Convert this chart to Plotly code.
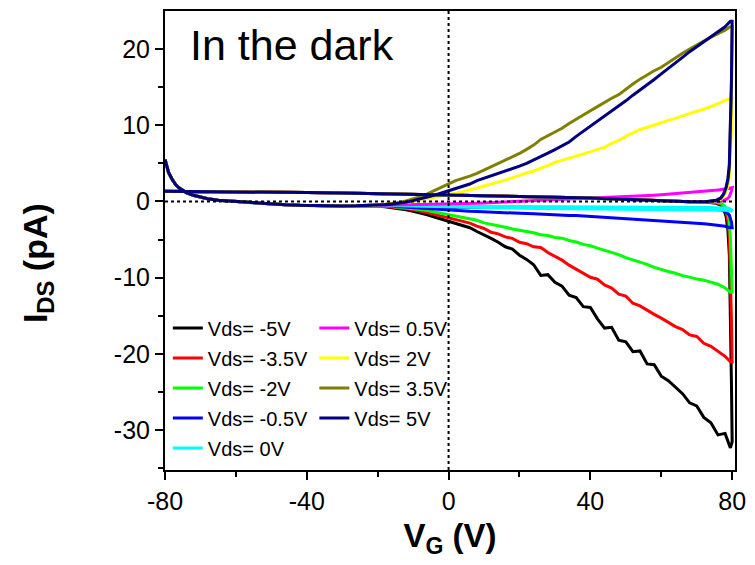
import plotly.graph_objects as go

# ---- data -------------------------------------------------------------
# shared start of forward sweep (all curves overlap here)
V_LEFT = [-80, -79.5, -79, -78, -77, -76, -75, -74, -72, -70, -68, -65, -62, -58,
          -54, -50, -46, -42, -38, -34, -30, -26, -22]
I_LEFT = [5.5, 4.5, 3.8, 2.9, 2.2, 1.75, 1.4, 1.15, 0.8, 0.55, 0.35, 0.15, 0.05, -0.1,
          -0.25, -0.35, -0.45, -0.52, -0.57, -0.6, -0.6, -0.58, -0.55]

# forward sweep, -20 .. 80 V
V_F = [-20, -18, -16, -14, -12, -10, -8, -6, -4, -2,
       0, 2, 4, 6, 8, 10, 12, 14, 16, 18,
       20, 22, 24, 26, 28, 30, 32, 34, 36, 38,
       40, 42, 44, 46, 48, 50, 52, 54, 56, 58,
       60, 62, 64, 66, 68, 70, 72, 74, 76, 78, 79.5]

F_M5 = [-0.60, -0.70, -0.80, -0.95, -1.10, -1.30, -1.50, -1.75, -2.05, -2.35,
        -2.60, -2.85, -3.20, -3.45, -3.95, -4.35, -4.85, -5.35, -5.95, -6.25,
        -7.05, -7.60, -8.30, -9.70, -9.60, -10.60, -11.10, -12.30, -12.60, -13.80,
        -13.90, -15.40, -16.60, -16.50, -18.20, -18.40, -19.70, -19.60, -21.30, -21.40,
        -22.90, -23.50, -24.40, -25.20, -26.40, -26.80, -28.30, -29.00, -30.60, -30.40, -32.30]
F_M35 = [-0.58, -0.65, -0.72, -0.82, -0.95, -1.10, -1.25, -1.45, -1.70, -1.95,
         -2.15, -2.35, -2.70, -2.85, -3.25, -3.55, -4.05, -4.25, -4.65, -4.85,
         -5.35, -5.55, -5.95, -6.05, -6.70, -7.15, -7.70, -8.35, -8.85, -9.40,
         -9.95, -10.20, -10.95, -11.35, -12.15, -12.40, -13.35, -13.70, -14.30, -14.80,
         -15.30, -15.90, -16.40, -16.80, -17.50, -17.70, -18.60, -19.00, -19.70, -20.30, -21.00]
F_M2 = [-0.56, -0.60, -0.66, -0.74, -0.83, -0.93, -1.05, -1.20, -1.38, -1.55,
        -1.70, -1.92, -2.08, -2.32, -2.48, -2.82, -2.98, -3.22, -3.38, -3.62,
        -3.78, -3.98, -4.12, -4.38, -4.47, -4.73, -4.82, -5.13, -5.32, -5.63,
        -5.82, -6.13, -6.38, -6.72, -6.97, -7.38, -7.66, -8.03, -8.26, -8.64,
        -8.86, -9.18, -9.42, -9.73, -9.92, -10.18, -10.32, -10.64, -10.86, -11.34, -11.90]
F_M05 = [-0.54, -0.58, -0.64, -0.70, -0.76, -0.83, -0.90, -0.98, -1.06, -1.14,
         -1.20, -1.22, -1.27, -1.30, -1.33, -1.38, -1.40, -1.45, -1.47, -1.52,
         -1.56, -1.60, -1.62, -1.68, -1.70, -1.75, -1.78, -1.84, -1.86, -1.92,
         -1.96, -2.01, -2.05, -2.12, -2.15, -2.22, -2.26, -2.33, -2.37, -2.45,
         -2.50, -2.58, -2.62, -2.70, -2.76, -2.85, -2.92, -3.02, -3.10, -3.25, -3.45]
F_0 = [-0.52, -0.54, -0.56, -0.58, -0.60, -0.62, -0.65, -0.68, -0.71, -0.74,
       -0.77, -0.79, -0.80, -0.82, -0.83, -0.85, -0.86, -0.87, -0.88, -0.89,
       -0.90, -0.91, -0.92, -0.93, -0.93, -0.94, -0.95, -0.95, -0.96, -0.97,
       -0.97, -0.98, -0.98, -0.99, -1.00, -1.00, -1.01, -1.01, -1.02, -1.02,
       -1.03, -1.04, -1.04, -1.05, -1.05, -1.06, -1.07, -1.08, -1.10, -1.15, -1.25]
F_P05 = [-0.50, -0.49, -0.48, -0.47, -0.46, -0.45, -0.43, -0.41, -0.39, -0.37,
         -0.35, -0.32, -0.29, -0.26, -0.23, -0.20, -0.16, -0.12, -0.08, -0.04,
         0.00, 0.04, 0.08, 0.12, 0.15, 0.19, 0.23, 0.27, 0.30, 0.33,
         0.36, 0.40, 0.44, 0.48, 0.53, 0.58, 0.63, 0.69, 0.75, 0.81,
         0.87, 0.94, 1.00, 1.07, 1.14, 1.22, 1.30, 1.40, 1.50, 1.62, 1.80]
F_P2 = [-0.48, -0.42, -0.35, -0.25, -0.12, 0.00, 0.15, 0.30, 0.50, 0.70,
        0.88, 1.10, 1.28, 1.52, 1.72, 2.02, 2.22, 2.52, 2.78, 3.12,
        3.38, 3.72, 3.98, 4.32, 4.68, 5.12, 5.38, 5.72, 5.98, 6.22,
        6.48, 6.82, 7.08, 7.62, 7.98, 8.52, 8.96, 9.42, 9.68, 10.02,
        10.28, 10.62, 10.88, 11.22, 11.48, 11.82, 12.08, 12.42, 12.78, 13.22, 13.50]
F_P35 = [-0.45, -0.38, -0.28, -0.15, 0.05, 0.30, 0.60, 1.00, 1.40, 1.90,
         2.30, 2.72, 2.98, 3.32, 3.68, 4.12, 4.48, 5.02, 5.38, 5.82,
         6.28, 6.82, 7.38, 8.12, 8.58, 9.12, 9.58, 10.22, 10.78, 11.42,
         11.88, 12.42, 12.98, 13.52, 13.98, 14.72, 15.38, 16.02, 16.58, 17.12,
         17.58, 18.22, 18.78, 19.42, 19.98, 20.52, 20.98, 21.52, 21.98, 22.42, 22.90]
F_P5 = [-0.50, -0.44, -0.36, -0.25, -0.10, 0.10, 0.30, 0.55, 0.80, 1.10,
        1.40, 1.70, 2.02, 2.28, 2.72, 3.02, 3.42, 3.68, 4.02, 4.28,
        4.62, 4.98, 5.42, 5.78, 6.32, 6.78, 7.32, 7.78, 8.52, 9.18,
        9.82, 10.48, 11.12, 11.78, 12.52, 13.18, 13.92, 14.58, 15.32, 15.98,
        16.72, 17.48, 18.22, 18.88, 19.62, 20.28, 20.92, 21.58, 22.32, 22.88, 23.60]

# backward sweep, 80 .. -80 V
V_B = [80, 79.8, 79.5, 79.2, 78.8, 78.3, 77.6, 76.8, 75.5, 73, 68,
       60, 50, 40, 30, 20, 10, 0, -10, -20, -30, -40, -50, -60, -70, -80]
BASE_B = [0.10, 0.25, 0.45, 0.55, 0.65, 0.75, 0.85, 0.95, 1.05, 1.10, 1.15, 1.20, 1.25, 1.30, 1.33]

B_M5 = [-31.5, -24.0, -13.0, -7.0, -3.8, -2.0, -1.0, -0.5, -0.25, -0.10, -0.05] + BASE_B
B_M35 = [-21.0, -15.5, -8.5, -4.6, -2.5, -1.4, -0.75, -0.38, -0.18, -0.08, -0.05] + BASE_B
B_M2 = [-11.9, -8.5, -4.8, -2.7, -1.6, -0.9, -0.5, -0.25, -0.12, -0.06, -0.05] + BASE_B
B_M05 = [-3.45, -2.7, -2.1, -1.8, -1.6, -1.4, -1.25, -1.12, -1.05, -1.0, -0.98,
         -0.95, -0.92, -0.9, -0.87, -0.83, -0.78, -0.72, -0.6, -0.52, -0.6, -0.55, -0.35, -0.03, None, None]
B_0 = [-1.25, -1.1, -0.98, -0.92, -0.88, -0.86, -0.84, -0.83, -0.82, -0.81, -0.8,
       -0.79, -0.78, -0.77, -0.76, -0.75, -0.73, -0.7, -0.6, -0.52, -0.6, -0.55, -0.35, -0.03, None, None]
B_P05 = [1.8, 1.4, 0.9, 0.6, 0.4, 0.25, 0.12, 0.05, 0.0, -0.03, -0.05] + BASE_B
B_P2 = [13.5, 9.5, 5.2, 3.2, 2.0, 1.3, 0.7, 0.3, 0.1, 0.0, -0.05] + BASE_B
B_P35 = [22.9, 15.0, 7.5, 4.4, 2.7, 1.7, 0.9, 0.4, 0.12, 0.0, -0.05] + BASE_B
B_P5 = [23.6, 16.0, 8.0, 4.8, 3.0, 1.9, 1.0, 0.45, 0.15, 0.0, -0.05] + BASE_B

LABELS = ["Vds= -5V", "Vds= -3.5V", "Vds= -2V", "Vds= -0.5V", "Vds= 0V",
          "Vds= 0.5V", "Vds= 2V", "Vds= 3.5V", "Vds= 5V"]
COLORS = ["#000000", "#ff0000", "#00ff00", "#0000ff", "#00ffff",
          "#ff00ff", "#ffff00", "#808000", "#000080"]
FWD = [F_M5, F_M35, F_M2, F_M05, F_0, F_P05, F_P2, F_P35, F_P5]
BWD = [B_M5, B_M35, B_M2, B_M05, B_0, B_P05, B_P2, B_P35, B_P5]

X_TICKS = [-80, -40, 0, 40, 80]
X_TICKTEXT = ["-80", "-40", "0", "40", "80"]
Y_TICKS = [-30, -20, -10, 0, 10, 20]
Y_TICKTEXT = ["-30", "-20", "-10", "0", "10", "20"]

# ---- figure -----------------------------------------------------------
FONT = "Liberation Sans, Arial, sans-serif"
fig = go.Figure()
for i, (lab, col, f, b) in enumerate(zip(LABELS, COLORS, FWD, BWD)):
    fig.add_trace(go.Scatter(
        x=V_LEFT + V_F + V_B, y=I_LEFT + f + b,
        mode="lines", name=lab, line=dict(color=col, width=3),
        legend="legend" if i < 5 else "legend2",
        legendgroup=lab, connectgaps=False,
    ))

leg_common = dict(font=dict(family=FONT, size=20, color="black"),
                  bgcolor="rgba(0,0,0,0)", borderwidth=0,
                  tracegroupgap=1, traceorder="grouped",
                  xanchor="left", yanchor="top", itemwidth=30)
fig.update_layout(
    width=755, height=565,
    margin=dict(l=165, r=19, t=9, b=95),
    paper_bgcolor="white", plot_bgcolor="white",
    font=dict(family=FONT, color="black"),
    showlegend=True,
    legend=dict(x=0.005, y=0.352, **leg_common),
    legend2=dict(x=0.262, y=0.352, **leg_common),
    xaxis=dict(range=[-80, 80.8], tickvals=X_TICKS, ticktext=X_TICKTEXT,
               ticks="outside", ticklen=8, tickwidth=2, tickcolor="black",
               minor=dict(tickvals=[-60, -20, 20, 60], ticks="outside", ticklen=5,
                          tickwidth=2, tickcolor="black"),
               showline=True, linewidth=2, linecolor="black", mirror=True,
               showgrid=False, zeroline=False,
               tickfont=dict(family=FONT, size=25),
               title=dict(text="<b>V<sub>G</sub> (V)</b>", font=dict(family=FONT, size=33),
                          standoff=10)),
    yaxis=dict(range=[-35.2, 24.95], tickvals=Y_TICKS, ticktext=Y_TICKTEXT,
               ticks="outside", ticklen=8, tickwidth=2, tickcolor="black",
               minor=dict(tickvals=[-35, -25, -15, -5, 5, 15], ticks="outside", ticklen=5,
                          tickwidth=2, tickcolor="black"),
               showline=True, linewidth=2, linecolor="black", mirror=True,
               showgrid=False, zeroline=False,
               tickfont=dict(family=FONT, size=25)),
    shapes=[
        dict(type="line", xref="paper", yref="y", x0=0, x1=1, y0=0, y1=0,
             line=dict(color="black", width=2, dash="dot"), layer="above"),
        dict(type="line", xref="x", yref="paper", x0=0, x1=0, y0=0, y1=1,
             line=dict(color="black", width=2, dash="dot"), layer="above"),
    ],
    annotations=[
        dict(text="In the dark", xref="paper", yref="paper", x=0.040, y=0.925,
             xanchor="left", yanchor="middle", showarrow=False,
             font=dict(family=FONT, size=43, color="black")),
        dict(text="<b>I<sub>DS</sub> (pA)</b>", xref="paper", yref="paper",
             x=(38 - 165) / 571, y=(470 - 262) / 461, xanchor="center", yanchor="middle",
             textangle=-90, showarrow=False,
             font=dict(family=FONT, size=34, color="black")),
    ],
)
fig.write_html("out.html")
